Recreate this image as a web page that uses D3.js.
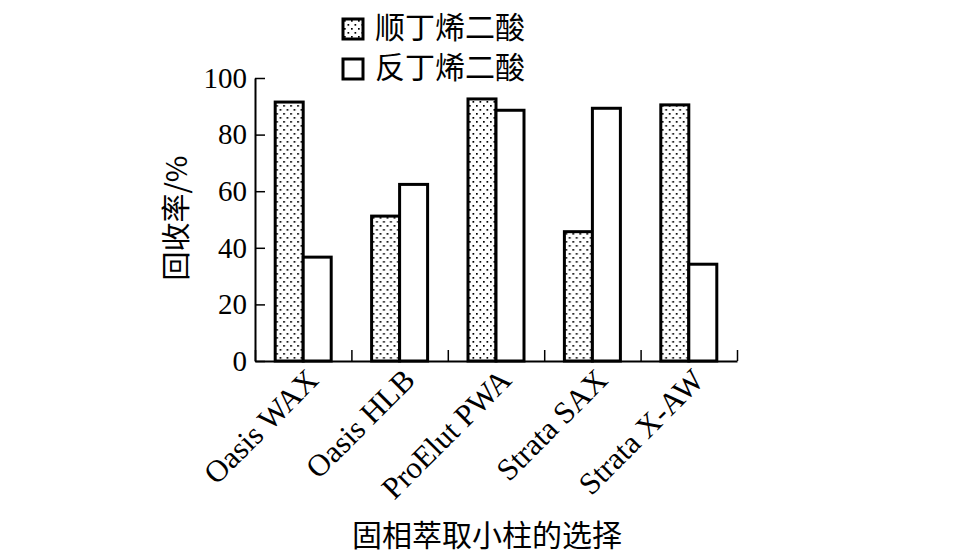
<!DOCTYPE html>
<html>
<head>
<meta charset="utf-8">
<script src="https://cdn.jsdelivr.net/npm/d3@7"></script>
<style>
  body { margin: 0; background: #fff; }
  svg { display: block; }
  .serif { font-family: "Liberation Serif", "DejaVu Serif", serif; }
  .cjk { font-family: "Noto Sans CJK SC", sans-serif; }
</style>
</head>
<body>
<svg id="chart" width="957" height="556"></svg>
<script>
// data
var columns = ["Oasis WAX", "Oasis HLB", "ProElut PWA", "Strata SAX", "Strata X-AW"];
var seriesNames = ["顺丁烯二酸", "反丁烯二酸"];
var cisValues = [91.5, 51.2, 92.6, 45.7, 90.5];
var transValues = [36.7, 62.4, 88.6, 89.3, 34.2];
var yTicks = [0, 20, 40, 60, 80, 100];

(function() {
  var svg = d3.select("#chart");
  var plotLeft = 255, plotRight = 737, plotTop = 78, plotBottom = 361;
  var groupW = 56;

  // dotted fill for the first series
  var defs = svg.append("defs");
  var pat = defs.append("pattern")
    .attr("id", "dots")
    .attr("patternUnits", "userSpaceOnUse")
    .attr("width", 7).attr("height", 8);
  pat.append("rect").attr("width", 7).attr("height", 8).attr("fill", "#fff");
  pat.append("rect").attr("x", 1).attr("y", 1).attr("width", 1.7).attr("height", 1.7).attr("fill", "#000");
  pat.append("rect").attr("x", 4.5).attr("y", 5).attr("width", 1.7).attr("height", 1.7).attr("fill", "#000");

  var fills = ["url(#dots)", "#fff"];

  var x = d3.scaleBand().domain(columns).range([plotLeft, plotRight]).paddingInner(0).paddingOuter(0);
  var xBound = d3.scaleLinear().domain([0, columns.length]).range([plotLeft, plotRight]);
  var xSub = d3.scaleBand().domain(seriesNames).range([0, groupW]);
  var y = d3.scaleLinear().domain([0, 100]).range([plotBottom, plotTop]);

  var rows = columns.map(function(c, i) {
    return { col: c, vals: [cisValues[i], transValues[i]] };
  });

  // bars
  var groups = svg.append("g").selectAll("g.grp")
    .data(rows)
    .enter().append("g")
    .attr("class", "grp")
    .attr("transform", function(d) { return "translate(" + (x(d.col) + (x.bandwidth() - groupW) / 2) + ",0)"; });

  groups.selectAll("rect")
    .data(function(d) { return d.vals.map(function(v, j) { return { s: seriesNames[j], v: v, j: j }; }); })
    .enter().append("rect")
    .attr("x", function(d) { return xSub(d.s); })
    .attr("width", xSub.bandwidth())
    .attr("y", function(d) { return y(d.v); })
    .attr("height", function(d) { return plotBottom - y(d.v); })
    .attr("fill", function(d) { return fills[d.j]; })
    .attr("stroke", "#000")
    .attr("stroke-width", 3);

  // y axis, ticks pointing inward
  var yAxis = svg.append("g")
    .attr("transform", "translate(" + plotLeft + ",0)")
    .call(d3.axisLeft(y).tickValues(yTicks).tickSizeInner(-10).tickSizeOuter(0).tickPadding(8));
  yAxis.select(".domain").attr("stroke-width", 2);
  yAxis.selectAll(".tick line").attr("stroke-width", 1.5);
  yAxis.selectAll("text").attr("font-size", 29).attr("fill", "#000")
    .attr("font-family", "Liberation Serif, serif");

  // x axis with ticks at the column boundaries
  var xAxis = svg.append("g")
    .attr("transform", "translate(0," + plotBottom + ")")
    .call(d3.axisBottom(xBound).ticks(columns.length).tickSizeInner(-11).tickSizeOuter(0).tickFormat(""));
  xAxis.select(".domain").attr("stroke-width", 2);
  xAxis.selectAll(".tick line").attr("stroke-width", 1.5);

  // slanted column labels
  svg.append("g").selectAll("text")
    .data(columns)
    .enter().append("text")
    .attr("class", "serif")
    .attr("transform", function(d) { return "translate(" + (x(d) + x.bandwidth() / 2 + 17) + ",382) rotate(-45)"; })
    .attr("text-anchor", "end")
    .attr("font-size", 31)
    .text(function(d) { return d; });

  // axis titles
  svg.append("text")
    .attr("class", "cjk")
    .attr("transform", "translate(187,218) rotate(-90)")
    .attr("text-anchor", "middle")
    .attr("font-size", 29)
    .text("回收率/%");

  svg.append("text")
    .attr("class", "cjk")
    .attr("x", 487).attr("y", 546)
    .attr("text-anchor", "middle")
    .attr("font-size", 30)
    .text("固相萃取小柱的选择");

  // legend
  var legend = svg.append("g").selectAll("g.legend")
    .data(seriesNames)
    .enter().append("g")
    .attr("class", "legend")
    .attr("transform", function(d, i) { return "translate(343," + (19 + i * 40) + ")"; });

  legend.append("rect")
    .attr("width", 20).attr("height", 20)
    .attr("fill", function(d, i) { return fills[i]; })
    .attr("stroke", "#000")
    .attr("stroke-width", 3);

  legend.append("text")
    .attr("class", "cjk")
    .attr("x", 32).attr("y", 19)
    .attr("font-size", 30)
    .text(function(d) { return d; });
})();
</script>
</body>
</html>
